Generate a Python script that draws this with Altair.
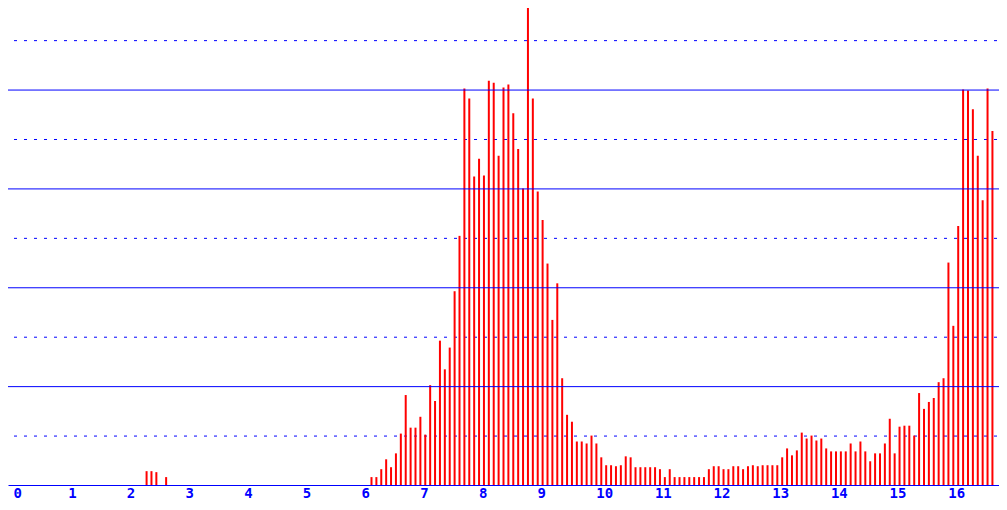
import altair as alt
import pandas as pd

# slot index of each 5-minute bar (slot 0 = hour 6.11), one bar every 1/12 unit
START = 6.11
STEP = 1 / 12
slots = [-46, -45, -44, -42] + list(range(128))
values = [
    0.28, 0.28, 0.26, 0.16,
    0.16, 0.16, 0.32, 0.52, 0.36, 0.64, 1.04, 1.82, 1.16, 1.16,   # 0-9
    1.38, 1.02, 2.02, 1.70, 2.92, 2.34, 2.78, 3.92, 5.04, 8.02,   # 10-19
    7.82, 6.24, 6.60, 6.26, 8.18, 8.14, 6.66, 8.04, 8.10, 7.52,   # 20-29
    6.80, 6.00, 9.76, 7.82, 5.94, 5.36, 4.48, 3.34, 4.08, 2.16,   # 30-39
    1.42, 1.28, 0.88, 0.88, 0.84, 1.00, 0.84, 0.56, 0.40, 0.40,   # 40-49
    0.38, 0.40, 0.58, 0.56, 0.36, 0.36, 0.36, 0.36, 0.36, 0.32,   # 50-59
    0.16, 0.32, 0.16, 0.16, 0.16, 0.16, 0.16, 0.16, 0.16, 0.32,   # 60-69
    0.38, 0.38, 0.32, 0.32, 0.38, 0.38, 0.32, 0.38, 0.40, 0.38,   # 70-79
    0.40, 0.40, 0.40, 0.40, 0.56, 0.74, 0.60, 0.70, 1.06, 0.94,   # 80-89
    1.00, 0.90, 0.94, 0.74, 0.68, 0.68, 0.68, 0.68, 0.84, 0.68,   # 90-99
    0.88, 0.68, 0.48, 0.64, 0.64, 0.84, 1.34, 0.64, 1.18, 1.20,   # 100-109
    1.20, 1.00, 1.86, 1.54, 1.68, 1.76, 2.08, 2.16, 4.50, 3.22,   # 110-119
    5.24, 8.00, 7.98, 7.60, 6.66, 5.76, 8.02, 7.16,               # 120-127
]
x_ticks = list(range(17))
solid_levels = [2, 4, 6, 8]
dashed_levels = [1, 3, 5, 7, 9]

BLUE = "#0000FF"
RED = "#FF0000"

bars_df = pd.DataFrame({"x": [START + s * STEP for s in slots], "v": values})
solid_df = pd.DataFrame({"y": solid_levels})
dashed_df = pd.DataFrame({"y": dashed_levels})

xscale = alt.Scale(domain=[0, 16.72], nice=False, zero=False)
yscale = alt.Scale(domain=[0, 9.65], nice=False)

dashed = alt.Chart(dashed_df).mark_rule(
    color=BLUE, strokeWidth=1, strokeDash=[3, 7], strokeDashOffset=8, yOffset=0.5
).encode(y=alt.Y("y:Q", scale=yscale, axis=None))

bars = alt.Chart(bars_df).mark_bar(color=RED, size=2, clip=True).encode(
    x=alt.X(
        "x:Q",
        scale=xscale,
        axis=alt.Axis(
            values=x_ticks,
            title=None,
            grid=False,
            ticks=False,
            domainColor=BLUE,
            domainWidth=1,
            labelColor=BLUE,
            labelFont="DejaVu Sans Mono",
            labelFontSize=14,
            labelFontWeight="bold",
            labelAlign="left",
            labelBaseline="top",
            labelPadding=1,
            labelFlush=False,
            labelOverlap=False,
            labelBound=False,
            labelOffset={"condition": {"test": "datum.value == 0", "value": 0}, "value": -4},
            format="d",
            zindex=1,
        ),
    ),
    y=alt.Y("v:Q", scale=yscale, axis=None),
)

solid = alt.Chart(solid_df).mark_rule(
    color=BLUE, strokeWidth=1, yOffset=0.5
).encode(y=alt.Y("y:Q", scale=yscale, axis=None))

chart = (
    alt.layer(dashed, bars, solid)
    .properties(
        width=991,
        height=477,
        padding={"left": 0, "top": 0, "right": 0, "bottom": 17},
        autosize=alt.AutoSizeParams(type="none"),
        background="white",
    )
    .configure_view(stroke=None)
)

chart.save("out.html", embed_options={"renderer": "svg", "actions": False})
